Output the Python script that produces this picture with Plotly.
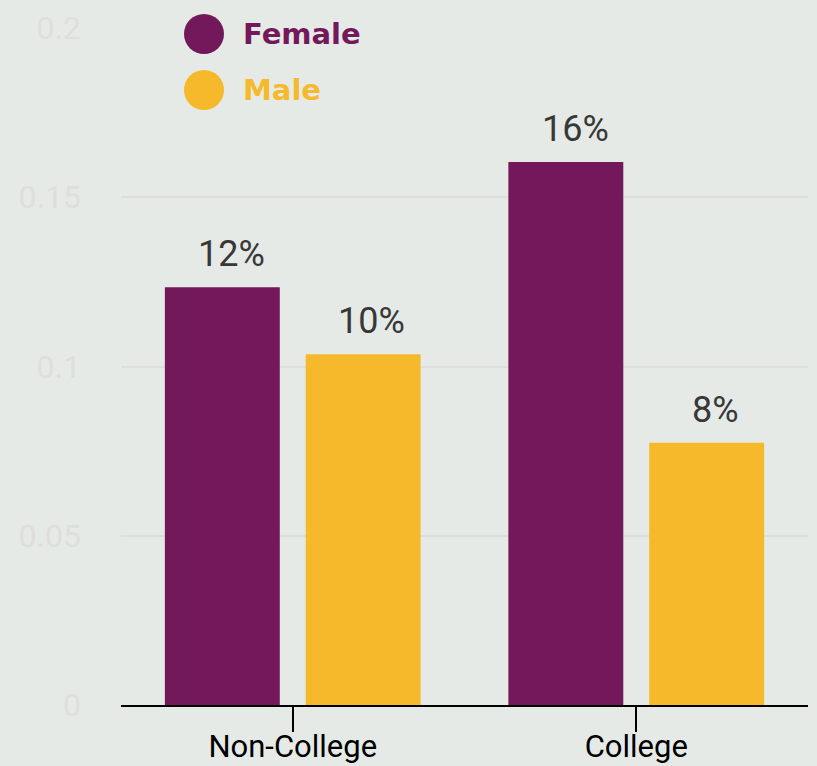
import plotly.graph_objects as go

categories = ["Non-College", "College"]
female = [0.1234, 0.1604]
male = [0.1036, 0.0775]
series_names = ["Female", "Male"]
series_colors = ["#73185b", "#f6b92b"]
y_ticks = [0, 0.05, 0.1, 0.15, 0.2]
y_tick_text = ["0", "0.05", "0.1", "0.15", "0.2"]

W, H = 817, 766
ML, MR, MT, MB = 121, 9, 28, 61
PW, PH = W - ML - MR, H - MT - MB

fig = go.Figure()
for name, vals, col in zip(series_names, [female, male], series_colors):
    fig.add_trace(go.Bar(x=categories, y=vals, name=name, marker_color=col,
                         marker_line_width=0, showlegend=False))

# value labels
offsets = [-70, 70]
for vals, off in zip([female, male], offsets):
    for c, v in zip(categories, vals):
        fig.add_annotation(x=c, y=v, xref="x", yref="y", text=f"{v*100:.0f}%",
                           showarrow=False, xshift=off + 9, yshift=10, yanchor="bottom",
                           font=dict(family="Roboto", size=36, color="#383838"))

# custom legend
def px_x(p):
    return (p - ML) / PW
def px_y(p):
    return (H - MB - p) / PH

legend_rows = [34, 90]
for name, col, cy in zip(series_names, series_colors, legend_rows):
    fig.add_shape(type="circle", xref="paper", yref="paper",
                  x0=px_x(184), x1=px_x(224), y0=px_y(cy + 20), y1=px_y(cy - 20),
                  fillcolor=col, line_width=0, layer="above")
    fig.add_annotation(xref="paper", yref="paper", x=px_x(241), y=px_y(cy),
                       xanchor="left", yanchor="middle", showarrow=False,
                       text=f"<b>{name}</b>",
                       font=dict(family="DejaVu Sans", size=29, color=col))

fig.update_layout(
    width=W, height=H,
    margin=dict(l=ML, r=MR, t=MT, b=MB),
    paper_bgcolor="#e5eae6", plot_bgcolor="#e5eae6",
    barmode="group", bargap=0.18, bargroupgap=0.184,
    showlegend=False,
)
fig.update_xaxes(
    showline=True, linecolor="#000000", linewidth=2,
    ticks="outside", ticklen=25, tickwidth=2, tickcolor="#000000",
    tickfont=dict(family="Roboto", size=31, color="#000000"),
    showgrid=False, automargin=False, ticklabelstandoff=-12,
)
fig.update_yaxes(
    range=[0, 0.2], tickvals=y_ticks, ticktext=y_tick_text,
    tickfont=dict(family="Roboto", size=32, color="#dedede"),
    showgrid=True, gridcolor="#dcdfdc", gridwidth=2,
    zeroline=False, showline=False, ticklabelstandoff=39, automargin=False,
)

fig.write_html(
    "out.html",
    config={"displayModeBar": False},
    post_script="document.body.style.margin='0px';document.body.style.overflow='hidden';document.body.style.background='#e5eae6';",
)
